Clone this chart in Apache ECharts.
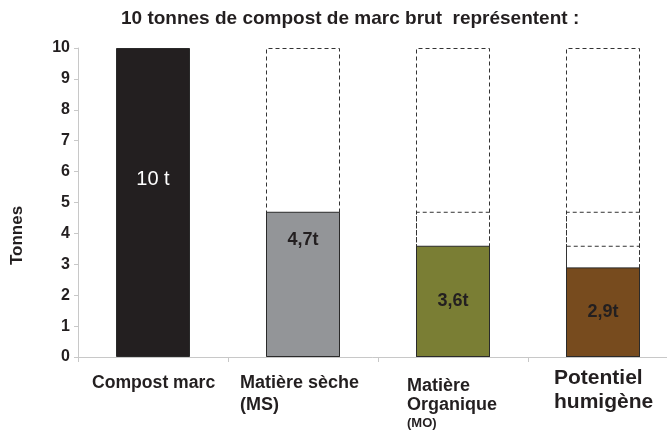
<!DOCTYPE html>
<html>
<head>
<meta charset="utf-8">
<script src="https://cdn.jsdelivr.net/npm/echarts@6/dist/echarts.min.js"></script>
<style>
  html, body { margin: 0; padding: 0; background: #fff; }
  #main { width: 667px; height: 432px; }
</style>
</head>
<body>
<div id="main"></div>
<script>
// categories + values
var categories = ['Compost marc', 'Matière sèche (MS)', 'Matière Organique (MO)', 'Potentiel humigène'];
var tonnes = [10, 4.7, 3.6, 2.9];
var barLabels = ['10 t', '4,7t', '3,6t', '2,9t'];
var barColors = ['#231f20', '#939598', '#7a7e34', '#774b1e'];
var yTicks = [0, 1, 2, 3, 4, 5, 6, 7, 8, 9, 10];

// label styling per category (xAxis text) -- rich tag per line
var axisText = [
  '{a|Compost marc}',
  '{b|Matière sèche}\n{b|(MS)}',
  '{c1|Matière}\n{c2|Organique}\n{cs|(MO)}',
  '{d1|Potentiel}\n{d2|humigène}'
];
var labelOffsets = [-23, -44, 0, 0];

var font = '"Liberation Sans", Arial, sans-serif';
var ink = '#231f20';
var chart = echarts.init(document.getElementById('main'), null, { renderer: 'canvas' });

// dashed outlines: each bar shows the outline of the bars before it
var series = [];
tonnes.forEach(function (v, j) {
  if (j === tonnes.length - 1) return;
  series.push({
    type: 'bar',
    barWidth: 74,
    barGap: '-100%',
    silent: true,
    data: tonnes.map(function (_, i) { return i > j ? v : '-'; }),
    itemStyle: {
      color: 'rgba(0,0,0,0)',
      borderColor: '#333',
      borderWidth: 1,
      borderType: [4, 3]
    }
  });
});

series.push({
  type: 'bar',
  barWidth: 74,
  barGap: '-100%',
  data: tonnes.map(function (v, i) {
    return {
      value: v,
      itemStyle: { color: barColors[i] },
      label: {
        formatter: barLabels[i],
        offset: [0, labelOffsets[i]],
        color: i === 0 ? '#ffffff' : ink,
        fontWeight: i === 0 ? 'normal' : 'bold',
        fontSize: i === 0 ? 20 : 18
      }
    };
  }),
  itemStyle: { borderColor: '#2a2a2a', borderWidth: 1 },
  label: { show: true, position: 'inside', fontFamily: font }
});

function rs(w, size, lh) {
  return { width: w, align: 'left', fontSize: size, fontWeight: 'bold', lineHeight: lh, color: ink, fontFamily: font };
}

var option = {
  animation: false,
  backgroundColor: '#ffffff',
  textStyle: { fontFamily: font },
  title: {
    text: '10 tonnes de compost de marc brut  représentent :',
    left: 116,
    top: 4,
    textStyle: { fontSize: 19, fontWeight: 'bold', color: ink, fontFamily: font }
  },
  grid: { left: 78, top: 48, bottom: 75, width: 600, outerBoundsMode: 'none' },
  xAxis: {
    type: 'category',
    data: categories,
    axisLine: { lineStyle: { color: '#c8c8c8', width: 1 } },
    axisTick: { show: true, length: 5, lineStyle: { color: '#c8c8c8' } },
    axisLabel: {
      interval: 0,
      margin: 15,
      color: ink,
      formatter: function (val, idx) { return axisText[idx]; },
      rich: {
        a: rs(122, 17.6, 22),
        b: rs(126, 18, 22),
        c1: rs(92, 18, 28),
        c2: rs(92, 18, 10),
        cs: rs(92, 13, 26),
        d1: rs(98, 21, 12),
        d2: rs(98, 21, 36)
      }
    }
  },
  yAxis: {
    type: 'value',
    min: yTicks[0],
    max: yTicks[yTicks.length - 1],
    interval: 1,
    name: 'Tonnes',
    nameLocation: 'middle',
    nameRotate: 90,
    nameGap: 52,
    nameTextStyle: { fontSize: 17, fontWeight: 'bold', color: ink, fontFamily: font, padding: [0, 66, 0, 0] },
    axisLine: { show: true, lineStyle: { color: '#c8c8c8', width: 1 } },
    axisTick: { show: true, length: 4, lineStyle: { color: '#c8c8c8' } },
    axisLabel: { margin: 8, fontSize: 16, fontWeight: 'bold', color: ink, fontFamily: font },
    splitLine: { show: false }
  },
  series: series
};

chart.setOption(option);
</script>
</body>
</html>
